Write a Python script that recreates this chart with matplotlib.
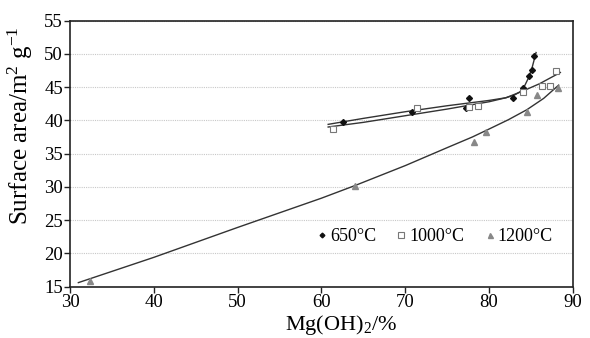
import numpy as np
import matplotlib
matplotlib.use("Agg")
import matplotlib.pyplot as plt

plt.rcParams['font.family'] = ['Liberation Serif', 'DejaVu Serif']
plt.rcParams['mathtext.fontset'] = 'custom'
plt.rcParams['mathtext.rm'] = 'Liberation Serif'
plt.rcParams['mathtext.it'] = 'Liberation Serif'

x650 = [62.6, 70.8, 77.6, 77.3, 82.8, 84.1, 84.7, 85.1, 85.4]
y650 = [39.8, 41.2, 43.4, 41.8, 43.4, 44.8, 46.7, 47.6, 49.7]
x1000 = [61.4, 71.4, 77.6, 78.7, 84.1, 86.3, 87.3, 88.0]
y1000 = [38.7, 41.8, 42.0, 42.1, 44.2, 45.1, 45.2, 47.4]
x1200 = [32.4, 64.0, 78.2, 79.6, 84.5, 85.7, 88.2]
y1200 = [15.9, 30.1, 36.8, 38.2, 41.3, 43.8, 44.8]

# trend curves
fx650 = [60.8, 65, 70, 75, 80, 82, 83, 83.7, 84.2, 84.7, 85.1, 85.6]
fy650 = [39.4, 40.3, 41.3, 42.2, 43.0, 43.4, 43.8, 44.3, 45.1, 46.4, 47.8, 50.2]
fx1000 = [60.8, 65, 70, 75, 80, 82, 84, 86, 88.5]
fy1000 = [39.0, 39.7, 40.7, 41.7, 42.8, 43.4, 44.4, 45.5, 47.2]
fx1200 = [31.0, 40, 50, 60, 64, 70, 75, 78, 80, 82.3, 84.5, 86.5, 88.3]
fy1200 = [15.6, 19.4, 23.9, 28.3, 30.2, 33.2, 35.9, 37.5, 38.7, 40.1, 41.6, 43.3, 45.3]

labels = ['650°C', '1000°C', '1200°C']
xticks = [30, 40, 50, 60, 70, 80, 90]
yticks = [15, 20, 25, 30, 35, 40, 45, 50, 55]

fig = plt.figure(figsize=(5.9, 3.38), dpi=100)
ax = fig.add_axes([0.1186, 0.152, 0.8525, 0.787])

line_col = '#333333'
for fx, fy in [(fx650, fy650), (fx1000, fy1000), (fx1200, fy1200)]:
    ax.plot(fx, fy, color=line_col, lw=1.0, zorder=2, solid_joinstyle='round')

ax.plot(x650, y650, ls='none', marker='D', ms=3.0, color='#111111', label=labels[0], zorder=3)
ax.plot(x1000, y1000, ls='none', marker='s', ms=5, mfc='white', mec='#777777', mew=0.8, label=labels[1], zorder=3)
ax.plot(x1200, y1200, ls='none', marker='^', ms=4.5, color='#888888', label=labels[2], zorder=3)

ax.set_xlim(30, 90)
ax.set_ylim(15, 55)
ax.set_xticks(xticks)
ax.set_yticks(yticks)
ax.yaxis.grid(True, color='#c8c8c8', ls=(0, (1, 1)), lw=0.8)
ax.set_axisbelow(True)
ax.tick_params(labelsize=13.5, direction='out', length=4, width=1, color='#222222', pad=1)
for s in ax.spines.values():
    s.set_linewidth(1.2)
    s.set_color('#222222')
ax.set_xlabel('Mg(OH)$_2$/%', fontsize=16)
ax.xaxis.set_label_coords(0.54, -0.1)
ax.set_ylabel('Surface area/m$^2$ g$^{-1}$', fontsize=18)
ax.yaxis.set_label_coords(-0.07, 0.605)

ax.legend(loc='center', bbox_to_anchor=(0.725, 0.187), ncol=3, frameon=False,
          fontsize=13, handlelength=0.6, handletextpad=0.15, columnspacing=1.1,
          markerscale=0.8)

fig.savefig('out.png', dpi=100)
